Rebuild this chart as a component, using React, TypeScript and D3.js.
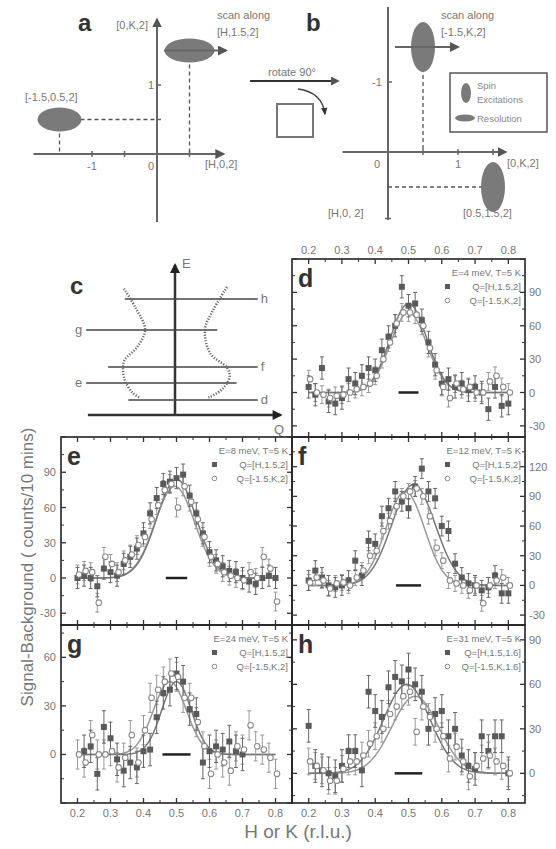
import React from 'react'
import * as d3 from 'd3'

// Q grid of the constant-energy scans (r.l.u.)
const qGrid = [0.2, 0.22, 0.24, 0.26, 0.28, 0.3, 0.32, 0.34, 0.36, 0.38, 0.4, 0.42, 0.44, 0.46, 0.48, 0.5,
  0.52, 0.54, 0.56, 0.58, 0.6, 0.62, 0.64, 0.66, 0.68, 0.7, 0.72, 0.74, 0.76, 0.78, 0.8]

// counts/10 mins, filled squares = [H,1.5,L], open circles = [-1.5,K,L]
const dH = [5, -2, 22, -8, -10, -5, 12, 8, 15, 22, 20, 38, 50, 60, 95, 78, 80, 65, 45, 25, 8, 12, 5, 8, 2, 5, 0, -15, 5, -12, -10]
const dK = [12, 0, -2, -5, -3, -2, 0, 3, 5, 8, 15, 30, 45, 62, 72, 72, 70, 60, 40, 20, 5, -5, 8, 3, 5, 0, 0, 10, 15, 5, 0]
const eH = [0, 2, 0, -7, 8, 5, 2, 12, 18, 25, 38, 55, 68, 80, 82, 85, 88, 70, 55, 38, 22, 15, 10, 6, 5, 0, -3, -5, 0, 2, 0]
const eK = [3, 6, 5, -21, 18, 12, 5, 15, 20, 28, 35, 50, 62, 75, 80, 60, 78, 65, 50, 35, 18, 12, 5, 2, 0, -2, 5, 0, 18, 8, -20]
const fH = [5, 15, 8, 0, -2, 0, 5, 25, 10, 45, 42, 70, 78, 95, 85, 78, 100, 118, 95, 88, 60, 55, 22, 8, 2, 0, -5, -2, 10, -8, -8]
const fK = [3, 8, 5, -3, 2, 3, 0, 8, 15, 30, 35, 55, 65, 80, 90, 95, 98, 90, 70, 38, 25, 5, 2, 0, -5, 0, -18, 0, 5, 8, 0]
const gH = [null, 2, 5, -12, 17, 10, -3, -10, -5, -8, 2, 3, 23, 38, 40, 50, 45, 28, 25, -5, 2, 5, 3, 8, 2, 0,
  null, null, null, null, null]
const gK = [0, -5, 12, 0, 0, 2, -8, -2, 12, -5, 15, 35, 40, 45, 50, 48, 35, 35, 20, 5, -12, 0, -5, -10, 5, 3, 18, 5, 3, -2, -12]
const hH = [32, 5, 2, 0, -2, 5, 15, 15, 2, 55, 42, 38, 58, 65, 62, 70, 60, 55, 30, 40, 42, 25, 30, 12, 5, 3, 25, 15, 25, 25, 0]
const hK = [8, 5, 2, -5, -5, 3, 8, 8, 12, 20, 25, 30, 40, 45, 52, 55, 28, 45, 38, 30, 25, 10, 18, 8, -2, 5, 10, 12, 8, 5, 0]

// gaussian fits: [amplitude, centre, sigma]
const fitsH = [[80, 0.5, 0.055], [84, 0.5, 0.06], [102, 0.515, 0.065], [45, 0.5, 0.045], [60, 0.495, 0.07]]
const fitsK = [[72, 0.5, 0.055], [78, 0.495, 0.06], [95, 0.49, 0.058], [45, 0.48, 0.05], [52, 0.52, 0.07]]

const energies = [4, 8, 12, 24, 31]
const lValues = ['2', '2', '2', '2', '1.6']
const resolutionWidth = [0.06, 0.065, 0.075, 0.085, 0.083]
const errorBars = [[10, 8], [9, 8], [10, 8], [10, 9], [11, 9]]
const yDomains = [[-40, 120], [-40, 120], [-40, 150], [-30, 80], [-20, 100]]
const yLabels = [[-30, 0, 30, 60, 90], [-30, 0, 30, 60, 90], [-30, 0, 30, 60, 90, 120], [0, 30, 60], [0, 30, 60, 90]]
const xLabels = [0.2, 0.3, 0.4, 0.5, 0.6, 0.7, 0.8]

const FONT = 'Liberation Sans, Arial, sans-serif'
const colX = [[61, 292], [292, 525]]
const rowY = [[259, 437], [437, 625], [625, 803]]

const panels = [
  { id: 'd', H: dH, K: dK, col: 1, row: 0 },
  { id: 'e', H: eH, K: eK, col: 0, row: 1 },
  { id: 'f', H: fH, K: fK, col: 1, row: 1 },
  { id: 'g', H: gH, K: gK, col: 0, row: 2 },
  { id: 'h', H: hH, K: hK, col: 1, row: 2 },
]

function gauss(p: number[], q: number) {
  return p[0] * Math.exp(-((q - p[1]) ** 2) / (2 * p[2] * p[2]))
}

function ScanPanel({ p, i }: { p: any; i: number }) {
  const [x0, x1] = colX[p.col]
  const [y0, y1] = rowY[p.row]
  const x = d3.scaleLinear().domain([0.15, 0.85]).range([x0, x1])
  const y = d3.scaleLinear().domain(yDomains[i]).range([y1, y0])
  const [lo, hi] = yDomains[i]
  const yMajor = d3.range(Math.ceil(lo / 30) * 30, hi + 0.1, 30)
  const yMinor = d3.range(Math.ceil((lo - 15) / 30) * 30 + 15, hi, 30).filter(v => v > lo && v < hi)
  const xMajor = d3.range(2, 9).map(v => v / 10)
  const xMinor = d3.range(5, 17, 2).map(v => v * 0.05)
  const fitQ = d3.range(0.2, 0.8001, 0.005)
  const fitLine = (prm: number[]) => d3.line<number>().x(q => x(q)).y(q => y(gauss(prm, q)))(fitQ) || ''
  const [eH, eK] = errorBars[i]
  const clip = `clip-${p.id}`
  const res = resolutionWidth[i] / 2

  const errBar = (q: number, v: number, e: number, c: string, k: string) => (
    <g key={k} stroke={c} strokeWidth={1}>
      <line x1={x(q)} x2={x(q)} y1={y(v - e)} y2={y(v + e)} />
      <line x1={x(q) - 2} x2={x(q) + 2} y1={y(v - e)} y2={y(v - e)} />
      <line x1={x(q) - 2} x2={x(q) + 2} y1={y(v + e)} y2={y(v + e)} />
    </g>
  )

  return (
    <g>
      <defs>
        <clipPath id={clip}><rect x={x0} y={y0} width={x1 - x0} height={y1 - y0} /></clipPath>
      </defs>
      <g clipPath={`url(#${clip})`}>
        <path d={fitLine(fitsK[i])} fill="none" stroke="#999" strokeWidth={1.5} />
        <path d={fitLine(fitsH[i])} fill="none" stroke="#777" strokeWidth={1.5} />
        {qGrid.map((q, j) => p.K[j] == null ? null : errBar(q, p.K[j], eK, '#999', 'ek' + j))}
        {qGrid.map((q, j) => p.H[j] == null ? null : errBar(q, p.H[j], eH, '#666', 'eh' + j))}
        {qGrid.map((q, j) => p.H[j] == null ? null :
          <rect key={'h' + j} x={x(q) - 3} y={y(p.H[j]) - 3} width={6} height={6} fill="#5a5a5a" />)}
        {qGrid.map((q, j) => p.K[j] == null ? null :
          <circle key={'k' + j} cx={x(q) + 1.5} cy={y(p.K[j])} r={2.8} fill="#fff" stroke="#8a8a8a" strokeWidth={1.1} />)}
        <line x1={x(0.5 - res)} x2={x(0.5 + res)} y1={y(0)} y2={y(0)} stroke="#222" strokeWidth={2.5} />
      </g>
      <rect x={x0} y={y0} width={x1 - x0} height={y1 - y0} fill="none" stroke="#222" strokeWidth={1.6} />
      {/* ticks on all four edges, pointing in */}
      {xMajor.map(q => (
        <g key={'xt' + q} stroke="#333" strokeWidth={1.3}>
          <line x1={x(q)} x2={x(q)} y1={y1} y2={y1 - 5} />
          <line x1={x(q)} x2={x(q)} y1={y0} y2={y0 + 5} />
        </g>
      ))}
      {xMinor.map(q => (
        <g key={'xm' + q} stroke="#333" strokeWidth={1}>
          <line x1={x(q)} x2={x(q)} y1={y1} y2={y1 - 3} />
          <line x1={x(q)} x2={x(q)} y1={y0} y2={y0 + 3} />
        </g>
      ))}
      {yMajor.map(v => (
        <g key={'yt' + v} stroke="#333" strokeWidth={1.3}>
          <line x1={x0} x2={x0 + 5} y1={y(v)} y2={y(v)} />
          <line x1={x1} x2={x1 - 5} y1={y(v)} y2={y(v)} />
        </g>
      ))}
      {yMinor.map(v => (
        <g key={'ym' + v} stroke="#333" strokeWidth={1}>
          <line x1={x0} x2={x0 + 3} y1={y(v)} y2={y(v)} />
          <line x1={x1} x2={x1 - 3} y1={y(v)} y2={y(v)} />
        </g>
      ))}
      {yLabels[i].map(v => (
        <text key={'yl' + v} x={p.col === 0 ? x0 - 5 : x1 + 4} y={y(v) + 4} fontSize={11}
          textAnchor={p.col === 0 ? 'end' : 'start'} fill="#777">{v}</text>
      ))}
      {p.row === 0 && xLabels.map(q => (
        <text key={'xl' + q} x={x(q)} y={y0 - 5} fontSize={11} textAnchor="middle" fill="#777">{q.toFixed(1)}</text>
      ))}
      {p.row === 2 && xLabels.map(q => (
        <text key={'xb' + q} x={x(q)} y={y1 + 14} fontSize={11} textAnchor="middle" fill="#777">{q.toFixed(1)}</text>
      ))}
      <text x={x0 + 6} y={y0 + 28} fontSize={25} fontWeight="bold" fill="#333">{p.id}</text>
      <g fontSize={9.5} fill="#777">
        <text x={x1 - 4} y={y0 + 17} textAnchor="end">{`E=${energies[i]} meV, T=5 K`}</text>
        <rect x={x1 - 80} y={y0 + 25} width={5} height={5} fill="#5a5a5a" />
        <text x={x1 - 4} y={y0 + 31} textAnchor="end">{`Q=[H,1.5,${lValues[i]}]`}</text>
        <circle cx={x1 - 77.5} cy={y0 + 41.5} r={2.3} fill="#fff" stroke="#8a8a8a" />
        <text x={x1 - 4} y={y0 + 45} textAnchor="end">{`Q=[-1.5,K,${lValues[i]}]`}</text>
      </g>
    </g>
  )
}

// sketch a: reciprocal lattice positions (H, K)
const spotsA = [[0.5, 1.5], [-1.5, 0.5]]
// sketch b: rotated frame (K, H)
const spotsB = [[0.5, -1.5], [1.5, 0.5]]
// sketch c: energy cuts [label, E, Qleft, Qright, label side]
const cutsC: [string, number, number, number, string][] = [
  ['h', 0.734, -0.57, 0.94, 'r'], ['g', 0.538, -1.01, 0.48, 'l'], ['f', 0.304, -0.76, 0.94, 'r'],
  ['e', 0.203, -1.01, 0.7, 'l'], ['d', 0.095, -0.53, 0.94, 'r'],
]
// dispersion sketch, left and right branches [Q, E]
const branchLeft = [[-0.58, 0.8], [-0.45, 0.68], [-0.34, 0.54], [-0.43, 0.43], [-0.57, 0.35], [-0.59, 0.3],
  [-0.57, 0.22], [-0.48, 0.14], [-0.4, 0.11]]
const branchRight = [[0.59, 0.81], [0.43, 0.66], [0.34, 0.54], [0.4, 0.39], [0.59, 0.3], [0.62, 0.24],
  [0.53, 0.16], [0.38, 0.11]]

function Sketches() {
  const xa = d3.scaleLinear().domain([-1, 0]).range([92, 157])
  const ya = d3.scaleLinear().domain([0, 1]).range([154, 85])
  const xb = d3.scaleLinear().domain([0, 1]).range([388, 458])
  const yb = d3.scaleLinear().domain([0, -1]).range([152, 82])
  const xc = d3.scaleLinear().domain([-1, 1]).range([87, 263])
  const yc = d3.scaleLinear().domain([0, 1]).range([415, 257])
  const curve = d3.line<number[]>().x(d => xc(d[0])).y(d => yc(d[1])).curve(d3.curveCatmullRom)
  const txt = { fontSize: 11, fill: '#777' }
  return (
    <g fontFamily={FONT}>
      {/* a */}
      <text x={78} y={31} fontSize={24} fontWeight="bold" fill="#333">a</text>
      <text x={148} y={29} textAnchor="end" {...txt}>[0,K,2]</text>
      <line x1={xa(-1.9)} x2={xa(1.02)} y1={ya(0)} y2={ya(0)} stroke="#666" strokeWidth={2} markerEnd="url(#ah)" />
      <line x1={xa(0)} x2={xa(0)} y1={222} y2={ya(1.95)} stroke="#666" strokeWidth={2} markerEnd="url(#ah)" />
      {[-1, -0.5, 0.5].map(v => <line key={'at' + v} x1={xa(v)} x2={xa(v)} y1={ya(0) - 3} y2={ya(0) + 3} stroke="#666" strokeWidth={1.5} />)}
      {[0.5, 1].map(v => <line key={'av' + v} x1={xa(0)} x2={xa(0) + 4} y1={ya(v)} y2={ya(v)} stroke="#666" strokeWidth={1.5} />)}
      <text x={xa(-1)} y={170} textAnchor="middle" {...txt}>-1</text>
      <text x={xa(0) - 6} y={170} textAnchor="middle" {...txt}>0</text>
      <text x={xa(0) - 6} y={ya(1) + 4} textAnchor="middle" {...txt}>1</text>
      <text x={205} y={168} {...txt}>[H,0,2]</text>
      <text x={25} y={101} {...txt}>[-1.5,0.5,2]</text>
      <text x={217} y={19} {...txt}>scan along</text>
      <text x={217} y={36} {...txt}>[H,1.5,2]</text>
      <g stroke="#555" strokeWidth={1.3} strokeDasharray="4 3">
        <line x1={xa(0.5)} x2={xa(0.5)} y1={ya(1.5)} y2={ya(0)} />
        <line x1={xa(-1.5)} x2={xa(0)} y1={ya(0.5)} y2={ya(0.5)} />
        <line x1={xa(-1.5)} x2={xa(-1.5)} y1={ya(0.5)} y2={ya(0)} />
      </g>
      <ellipse cx={xa(spotsA[0][0])} cy={ya(spotsA[0][1])} rx={25} ry={12} fill="#7a7a7a" />
      <ellipse cx={xa(spotsA[1][0])} cy={ya(spotsA[1][1])} rx={22} ry={12} fill="#7a7a7a" />
      <line x1={164} x2={226} y1={ya(1.5)} y2={ya(1.5)} stroke="#666" strokeWidth={2} markerEnd="url(#ah)" />

      {/* rotate */}
      <text x={292} y={76} textAnchor="middle" {...txt}>rotate 90°</text>
      <line x1={250} x2={338} y1={81} y2={81} stroke="#333" strokeWidth={1.8} markerEnd="url(#ah)" />
      <rect x={277} y={104} width={36} height={33} fill="#fff" stroke="#777" strokeWidth={2} />
      <path d="M298,89 Q322,92 325,114" fill="none" stroke="#444" strokeWidth={1.3} markerEnd="url(#ahs)" />

      {/* b */}
      <text x={306} y={31} fontSize={24} fontWeight="bold" fill="#333">b</text>
      <line x1={xb(-0.65)} x2={xb(1.68)} y1={yb(0)} y2={yb(0)} stroke="#666" strokeWidth={2} markerEnd="url(#ah)" />
      <line x1={xb(0)} x2={xb(0)} y1={yb(-2.07)} y2={yb(0.97)} stroke="#666" strokeWidth={2} />
      {[0.5, 1, 1.5].map(v => <line key={'bt' + v} x1={xb(v)} x2={xb(v)} y1={yb(0) - 3} y2={yb(0) + 3} stroke="#666" strokeWidth={1.5} />)}
      <line x1={xb(0)} x2={xb(0) + 4} y1={yb(-1)} y2={yb(-1)} stroke="#666" strokeWidth={1.5} />
      <line x1={xb(0) - 3} x2={xb(0) + 3} y1={yb(0.95)} y2={yb(0.95)} stroke="#666" strokeWidth={1.5} />
      <text x={xb(0) - 11} y={yb(-1) + 4} textAnchor="middle" {...txt}>-1</text>
      <text x={xb(0) - 11} y={168} textAnchor="middle" {...txt}>0</text>
      <text x={xb(1)} y={168} textAnchor="middle" {...txt}>1</text>
      <text x={507} y={167} {...txt}>[0,K,2]</text>
      <text x={328} y={217} {...txt}>[H,0, 2]</text>
      <text x={463} y={217} {...txt}>[0.5,1.5,2]</text>
      <text x={441} y={19} {...txt}>scan along</text>
      <text x={441} y={36} {...txt}>[-1.5,K,2]</text>
      <g stroke="#555" strokeWidth={1.3} strokeDasharray="4 3">
        <line x1={xb(0.5)} x2={xb(0.5)} y1={yb(-1.5)} y2={yb(0)} />
        <line x1={xb(0)} x2={xb(1.5)} y1={yb(0.5)} y2={yb(0.5)} />
      </g>
      {spotsB.map((s, j) => <ellipse key={'sb' + j} cx={xb(s[0])} cy={yb(s[1])} rx={12} ry={25} fill="#7a7a7a" />)}
      <line x1={395} x2={458} y1={yb(-1.5)} y2={yb(-1.5)} stroke="#666" strokeWidth={2} markerEnd="url(#ah)" />
      <rect x={450} y={73} width={97} height={59} fill="#fff" stroke="#555" strokeWidth={1.5} />
      <ellipse cx={466} cy={93} rx={5} ry={10} fill="#7a7a7a" />
      <ellipse cx={465} cy={118} rx={10} ry={3.5} fill="#7a7a7a" />
      <g fontSize={9.5} fill="#888">
        <text x={477} y={89}>Spin</text>
        <text x={477} y={103}>Excitations</text>
        <text x={477} y={122}>Resolution</text>
      </g>

      {/* c */}
      <text x={70} y={294} fontSize={24} fontWeight="bold" fill="#333">c</text>
      <line x1={xc(-0.99)} x2={xc(1.2)} y1={yc(0)} y2={yc(0)} stroke="#333" strokeWidth={2.5} markerEnd="url(#ahb)" />
      <line x1={xc(0)} x2={xc(0)} y1={yc(0)} y2={yc(0.95)} stroke="#333" strokeWidth={2.5} markerEnd="url(#ahb)" />
      <text x={182} y={268} fontSize={13} fill="#777">E</text>
      <text x={274} y={434} fontSize={13} fill="#777">Q</text>
      {cutsC.map(c => (
        <g key={'cut' + c[0]}>
          <line x1={xc(c[2])} x2={xc(c[3])} y1={yc(c[1])} y2={yc(c[1])} stroke="#444" strokeWidth={1.6} />
          <text x={c[4] === 'r' ? xc(c[3]) + 3 : xc(c[2]) - 4} y={yc(c[1]) + 4}
            textAnchor={c[4] === 'r' ? 'start' : 'end'} fontSize={13} fill="#777">{c[0]}</text>
        </g>
      ))}
      <path d={curve(branchLeft) || ''} fill="none" stroke="#666" strokeWidth={2.5} strokeDasharray="1.2 1.6" />
      <path d={curve(branchRight) || ''} fill="none" stroke="#666" strokeWidth={2.5} strokeDasharray="1.2 1.6" />
    </g>
  )
}

export default function App() {
  return (
    <svg width={556} height={849} viewBox="0 0 556 849"
      style={{ position: 'absolute', left: 0, top: 0, background: '#fff' }} fontFamily={FONT}>
      <defs>
        <marker id="ah" viewBox="0 0 10 10" refX="8" refY="5" markerWidth="5" markerHeight="5" orient="auto">
          <path d="M0,0 L10,5 L0,10 z" fill="#555" />
        </marker>
        <marker id="ahs" viewBox="0 0 10 10" refX="8" refY="5" markerWidth="6" markerHeight="6" orient="auto">
          <path d="M0,1 L10,5 L0,9 z" fill="#333" />
        </marker>
        <marker id="ahb" viewBox="0 0 10 10" refX="8" refY="5" markerWidth="5" markerHeight="4" orient="auto">
          <path d="M0,0 L10,5 L0,10 z" fill="#222" />
        </marker>
      </defs>
      <Sketches />
      {panels.map((p, i) => <ScanPanel key={p.id} p={p} i={i} />)}
      <text transform="translate(33,567) rotate(-90)" textAnchor="middle" fontSize={17} fill="#777">
        Signal-Background ( counts/10 mins)
      </text>
      <text x={298} y={838} textAnchor="middle" fontSize={19} fill="#777">H or K (r.l.u.)</text>
    </svg>
  )
}
